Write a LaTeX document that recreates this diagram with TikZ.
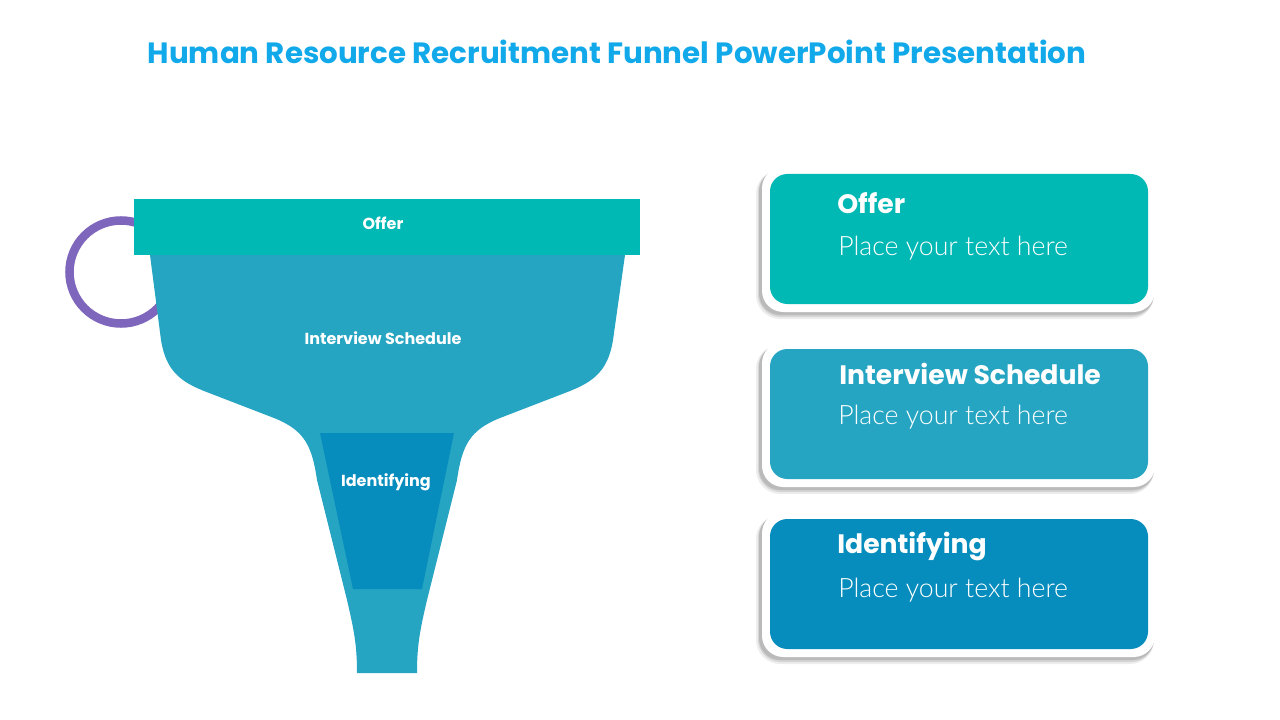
\documentclass[tikz,border=0pt]{standalone}
\usepackage{fontspec}
\setmainfont{Poppins}
\newfontfamily\latol{Lato Light}
\definecolor{cOffer}{HTML}{00B8B4}
\definecolor{cInter}{HTML}{25A5C2}
\definecolor{cIdent}{HTML}{068DBD}
\definecolor{cTitle}{HTML}{12A9EA}
\definecolor{cPurple}{HTML}{7E66BD}
\tikzset{
  ttl/.style={anchor=base, inner sep=0pt, text=cTitle, font=\fontsize{22}{26}\selectfont\bfseries},
  flabel/.style={anchor=base, inner sep=0pt, text=white, font=\fontsize{12}{14}\selectfont\bfseries},
  btitle/.style={anchor=base west, inner sep=0pt, text=white, font=\fontsize{20}{24}\selectfont\bfseries},
  btext/.style={anchor=base west, inner sep=0pt, text=white, font=\latol\fontsize{20}{24}\selectfont},
  shadowA/.style={fill=black, opacity=0.07, rounded corners=18pt},
  shadowB/.style={fill=black, opacity=0.10, rounded corners=17pt},
  shadowC/.style={fill=black, opacity=0.12, rounded corners=16pt},
  outerbox/.style={fill=white, rounded corners=16pt},
  innerbox/.style={rounded corners=13pt}
}
\begin{document}
\begin{tikzpicture}[x=0.75pt,y=-0.75pt]
\useasboundingbox (0,0) rectangle (1280,720);
\fill[white] (0,0) rectangle (1280,720);
% title
\node[ttl] (title) at (617,64) {Human Resource Recruitment Funnel PowerPoint Presentation};
% purple ring
\draw[cPurple, line width=6.4pt] (121,272) circle [radius=51.5];
% funnel body
\fill[cInter] (150,255) -- (625,255) -- (613,340)
  .. controls (608,372) and (592,382) .. (570,391) -- (500,418)
  .. controls (470,430) and (462,445) .. (457,480) -- (427,600)
  .. controls (420,630) and (417,645) .. (417,673) -- (357,673)
  .. controls (357,645) and (354,630) .. (347,600) -- (317,480)
  .. controls (312,445) and (304,430) .. (274,418) -- (204,391)
  .. controls (182,382) and (166,372) .. (161,340) -- cycle;
% offer band
\fill[cOffer] (134,199) rectangle (640,255);
% identifying trapezoid
\fill[cIdent] (320,433) -- (454,433) -- (422,589) -- (353,589) -- cycle;
\node[flabel] (fOffer) at (383,229) {Offer};
\node[flabel] (fInter) at (383,344) {Interview Schedule};
\node[flabel] (fIdent) at (386,486) {Identifying};
% boxes
\foreach \t/\c in {167/cOffer, 342/cInter, 512/cIdent}{
  \fill[shadowA] (756,\t+3) rectangle (1154,\t+152);
  \fill[shadowB] (758,\t+3) rectangle (1154,\t+150);
  \fill[shadowC] (759,\t+3) rectangle (1154,\t+148);
  \fill[outerbox] (762,\t) rectangle (1155,\t+145);
  \fill[innerbox, fill=\c] (770,\t+7) rectangle (1148,\t+137);
}
\node[btitle] (t1) at (837,214) {Offer};
\node[btext] (b1) at (838,255) {Place your text here};
\node[btitle] (t2) at (839,384) {Interview Schedule};
\node[btext] (b2) at (838,424) {Place your text here};
\node[btitle] (t3) at (837,553) {Identifying};
\node[btext] (b3) at (838,597) {Place your text here};
\end{tikzpicture}
\end{document}
